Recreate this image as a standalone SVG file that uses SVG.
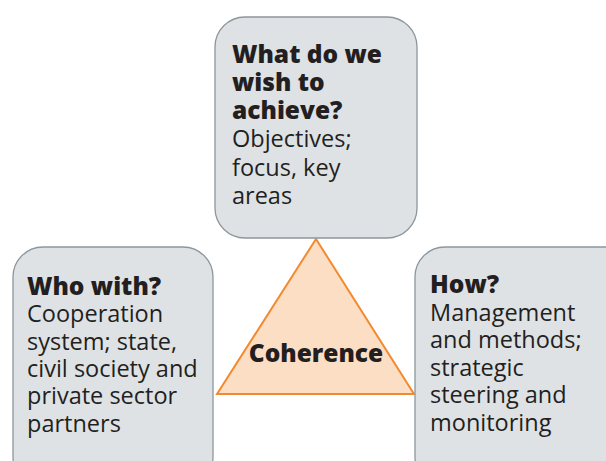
<svg xmlns="http://www.w3.org/2000/svg" width="606" height="461" viewBox="0 0 606 461">
<style>
.box{fill:#dfe2e5;stroke:#8c979e;stroke-width:1.3}
.t{font-family:"Open Sans","Noto Sans",sans-serif;font-size:23.5px;fill:#231f20}
.b{font-weight:800;font-size:24.5px}
.tri{fill:#fcdec4;stroke:#f28a30;stroke-width:2}
</style>
<rect width="606" height="461" fill="#ffffff"/>
<g id="coherence">
<polygon class="tri" points="316,239 217,394 414,394"/>
<text class="t b" x="316" y="362" text-anchor="middle">Coherence</text>
</g>
<g id="what">
<rect class="box" x="215" y="17" width="202" height="221" rx="30"/>
<text class="t" x="232"><tspan class="b" x="232" y="63">What do we</tspan><tspan class="b" x="232" y="91">wish to</tspan><tspan class="b" x="232" y="119">achieve?</tspan><tspan x="232" y="147">Objectives;</tspan><tspan x="232" y="176">focus, key</tspan><tspan x="232" y="204">areas</tspan></text>
</g>
<g id="who">
<rect class="box" x="13" y="247" width="200" height="240" rx="30"/>
<text class="t" x="27"><tspan class="b" x="27" y="295">Who with?</tspan><tspan x="27" y="322">Cooperation</tspan><tspan x="27" y="350">system; state,</tspan><tspan x="27" y="377">civil society and</tspan><tspan x="27" y="404">private sector</tspan><tspan x="27" y="432">partners</tspan></text>
</g>
<g id="how">
<rect class="box" x="415" y="247" width="220" height="240" rx="30"/>
<text class="t" x="430"><tspan class="b" x="430" y="293">How?</tspan><tspan x="430" y="321">Management</tspan><tspan x="430" y="348">and methods;</tspan><tspan x="430" y="376">strategic</tspan><tspan x="430" y="403">steering and</tspan><tspan x="430" y="431">monitoring</tspan></text>
</g>
<g id="connectors"></g>
</svg>
